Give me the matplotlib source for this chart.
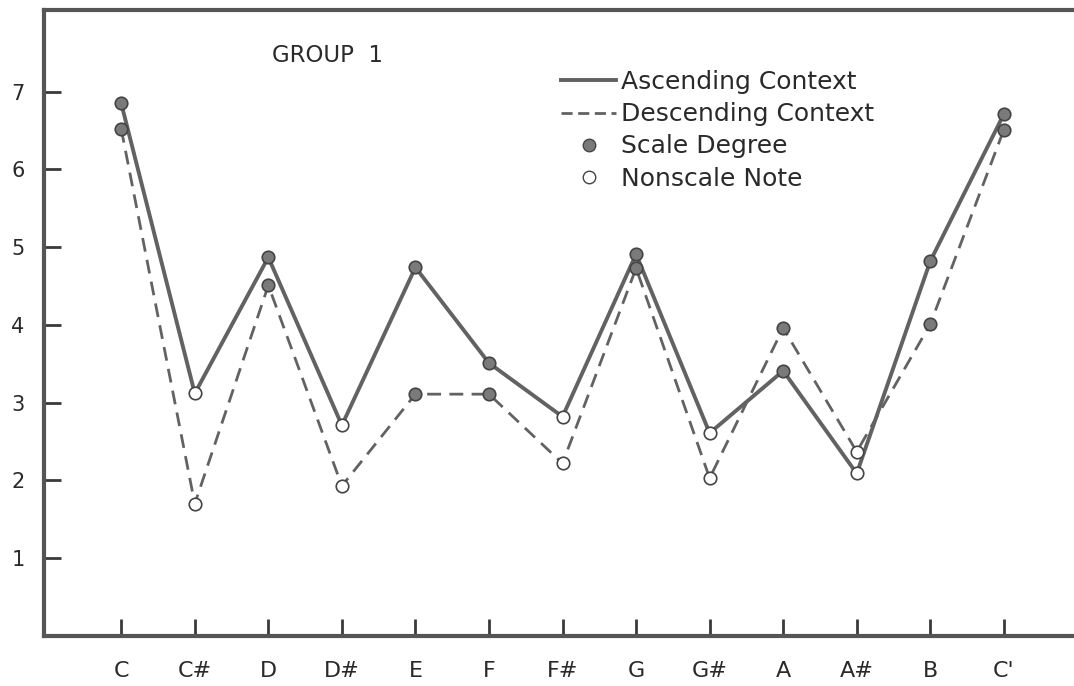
import matplotlib
matplotlib.use("Agg")
import matplotlib.pyplot as plt
from matplotlib.lines import Line2D

notes = ["C", "C#", "D", "D#", "E", "F", "F#", "G", "G#", "A", "A#", "B", "C'"]
is_scale = [True, False, True, False, True, True, False, True, False, True, False, True, True]
ascending = [6.85, 3.12, 4.87, 2.71, 4.74, 3.51, 2.82, 4.91, 2.61, 3.41, 2.09, 4.82, 6.71]
descending = [6.52, 1.70, 4.51, 1.93, 3.11, 3.11, 2.22, 4.73, 2.03, 3.96, 2.37, 4.01, 6.51]
y_ticks = [1, 2, 3, 4, 5, 6, 7]

line_col = "#626262"
fill_col = "#7a7a7a"
edge_col = "#444444"
text_col = "#2a2a2a"

plt.rcParams['font.family'] = ['DejaVu Sans']
fig = plt.figure(figsize=(10.74, 6.86), dpi=100)
ax = fig.add_axes([44/1074, 50/686, 1.0 - 44/1074 + 0.01, 626/686])

x = list(range(len(notes)))
ax.plot(x, ascending, color=line_col, lw=2.8, solid_capstyle='round', zorder=2)
ax.plot(x, descending, color=line_col, lw=2.0, dashes=(5, 3), zorder=2)

for series in (ascending, descending):
    xs_f = [i for i in x if is_scale[i]]
    ys_f = [series[i] for i in x if is_scale[i]]
    xs_o = [i for i in x if not is_scale[i]]
    ys_o = [series[i] for i in x if not is_scale[i]]
    ax.plot(xs_f, ys_f, 'o', ms=9, mfc=fill_col, mec=edge_col, mew=1.2, zorder=3)
    ax.plot(xs_o, ys_o, 'o', ms=9, mfc='white', mec=edge_col, mew=1.2, zorder=3)

ax.set_xlim(-1.05, 13.1)
ax.set_ylim(0, 8.05)
ax.set_xticks(x)
ax.set_xticklabels(notes)
ax.set_yticks(y_ticks)
ax.tick_params(axis='both', direction='in', length=12, width=2, color='#3a3a3a',
               labelsize=15, labelcolor=text_col)
ax.tick_params(axis='x', pad=18, labelsize=16)
ax.tick_params(axis='y', pad=14)

for s in ('left', 'bottom', 'top'):
    ax.spines[s].set_linewidth(3)
    ax.spines[s].set_color('#555555')
ax.spines['right'].set_visible(False)

ax.text((270-44)/1030, (636-55)/626, "GROUP  1", transform=ax.transAxes,
        fontsize=16.5, color=text_col, va='center', ha='left')

handles = [
    Line2D([], [], color=line_col, lw=2.8),
    Line2D([], [], color=line_col, lw=2.0, dashes=(4, 2)),
    Line2D([], [], ls='none', marker='o', ms=9, mfc=fill_col, mec=edge_col),
    Line2D([], [], ls='none', marker='o', ms=9, mfc='white', mec=edge_col),
]
labels = ["Ascending Context", "Descending Context", "Scale Degree", "Nonscale Note"]
leg = ax.legend(handles, labels, loc='upper left', bbox_to_anchor=((556-44)/1030, (636-70)/626),
                frameon=False, fontsize=18, handlelength=2.2, handletextpad=0.2,
                labelspacing=0.33, borderpad=0, borderaxespad=0)
for t in leg.get_texts():
    t.set_color(text_col)

fig.savefig("out.png", dpi=100)
